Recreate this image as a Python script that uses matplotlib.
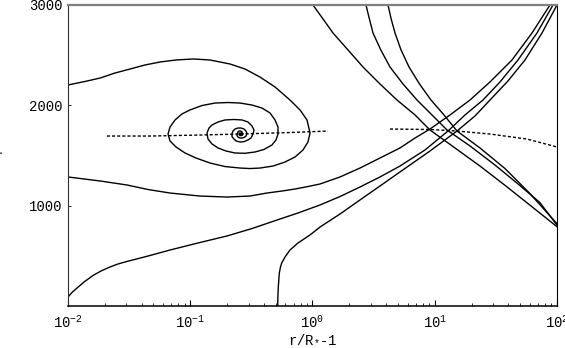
import numpy as np
import matplotlib
matplotlib.use('Agg')
import matplotlib.pyplot as plt
from matplotlib.ticker import NullFormatter, LogLocator

plt.rcParams['font.family'] = ['Liberation Mono', 'DejaVu Sans Mono']
plt.rcParams['mathtext.fontset'] = 'dejavusans'

# spiral solution winding into the focus
spiral_x = [0.0100, 0.0138, 0.0183, 0.0242, 0.0322, 0.0426, 0.0566, 0.0765, 0.1053, 0.1451,
            0.2114, 0.2804, 0.3720, 0.4935, 0.6546, 0.7904, 0.9016, 0.9540, 0.9187, 0.8363,
            0.7193, 0.5958, 0.4752, 0.3720, 0.3081, 0.2552, 0.1924, 0.1451, 0.1114, 0.0906,
            0.0765, 0.0683, 0.0658, 0.0683, 0.0751, 0.0856, 0.0995, 0.1248, 0.1594, 0.2036,
            0.2552, 0.3199, 0.3862, 0.4492, 0.4935, 0.5222, 0.5222, 0.5029, 0.4664, 0.4011,
            0.3385, 0.2804, 0.2323, 0.1961, 0.1687, 0.1507, 0.1397, 0.1371, 0.1424, 0.1507,
            0.1687, 0.1924, 0.2280, 0.2650, 0.2967, 0.3199, 0.3322, 0.3260, 0.3140, 0.2967,
            0.2752, 0.2552, 0.2367, 0.2280, 0.2195, 0.2195, 0.2237, 0.2323, 0.2458, 0.2601,
            0.2752, 0.2857, 0.2912, 0.2857, 0.2752, 0.2650, 0.2552, 0.2458, 0.2412, 0.2412,
            0.2458, 0.2505, 0.2601, 0.2650, 0.2700, 0.2650, 0.2552, 0.2505, 0.2528, 0.2601,
            0.2625, 0.2576, 0.2552]
spiral_v = [2203, 2238, 2272, 2322, 2362, 2402, 2432, 2452, 2462, 2452,
            2412, 2362, 2282, 2183, 2053, 1954, 1854, 1724, 1635, 1555,
            1485, 1435, 1395, 1375, 1370, 1375, 1390, 1425, 1475, 1525,
            1585, 1645, 1714, 1784, 1854, 1914, 1954, 1998, 2023, 2028,
            2023, 2003, 1973, 1924, 1854, 1784, 1714, 1655, 1605, 1560,
            1535, 1522, 1525, 1545, 1575, 1615, 1664, 1724, 1774, 1804,
            1834, 1854, 1859, 1854, 1834, 1794, 1754, 1714, 1674, 1655,
            1638, 1635, 1645, 1664, 1689, 1714, 1744, 1764, 1774, 1774,
            1764, 1744, 1719, 1694, 1679, 1674, 1674, 1684, 1699, 1714,
            1734, 1744, 1744, 1734, 1714, 1699, 1699, 1709, 1724, 1724,
            1714, 1709, 1714]

# rising solutions
rise1_x = [0.0100, 0.01352, 0.0183, 0.0304, 0.0451, 0.0683, 0.120, 0.1998, 0.308, 0.424,
           0.563, 0.719, 0.919, 1.152, 1.679, 2.446, 3.565, 5.196, 6.893, 9.145,
           13.33, 19.43, 28.31, 42.85, 62.45, 87.6]
rise1_v = [1286, 1266, 1246, 1206, 1161, 1126, 1096, 1086, 1096, 1126,
           1146, 1166, 1191, 1216, 1286, 1375, 1475, 1575, 1674, 1764,
           1904, 2053, 2233, 2452, 2721, 3000]

rise2_x = [0.0100, 0.01078, 0.01185, 0.01352, 0.01602, 0.01862, 0.02206, 0.02565, 0.03038, 0.04511,
           0.06829, 0.1157, 0.1998, 0.3199, 0.5124, 0.7611, 1.152, 1.679, 2.446, 3.565,
           5.196, 8.323, 12.84, 17.68, 24.81, 34.18, 47.97, 68.61, 92.74]
rise2_v = [90, 135, 179, 239, 304, 349, 389, 419, 444, 498,
           558, 628, 698, 772, 857, 927, 1007, 1091, 1186, 1286,
           1395, 1555, 1744, 1904, 2053, 2233, 2452, 2721, 3000]

rise3_x = [0.5193, 0.5212, 0.5252, 0.5351, 0.5474, 0.5599, 0.5958, 0.6546, 0.7611, 0.9540,
           1.152, 1.679, 2.446, 3.565, 5.196, 9.145, 15.21, 21.34, 28.31, 39.73,
           54.73, 75.4, 100]
rise3_v = [0, 100, 189, 329, 389, 429, 488, 558, 628, 708,
           787, 917, 1057, 1196, 1336, 1545, 1744, 1894, 2053, 2243,
           2452, 2721, 3000]

# falling solutions
fall1_x = [1.009, 1.219, 1.471, 1.951, 2.589, 3.565, 4.912, 6.90, 9.145, 14.64,
           23.45, 37.55, 60.13, 100]
fall1_v = [3000, 2861, 2721, 2552, 2382, 2213, 2053, 1904, 1754, 1575,
           1395, 1203, 1005, 790]

fall2_x = [2.739, 2.92, 3.126, 3.62, 4.305, 5.50, 7.157, 9.50, 12.6, 19.43,
           31.11, 49.81, 72.6, 100]
fall2_v = [3000, 2861, 2721, 2552, 2382, 2213, 2053, 1904, 1754, 1595,
           1405, 1200, 1030, 805]

fall3_x = [4.146, 4.40, 4.73, 5.30, 6.158, 7.50, 9.318, 11.9, 15.21, 23.45,
           37.55, 60.13, 100]
fall3_v = [3000, 2861, 2721, 2552, 2382, 2213, 2053, 1904, 1744, 1575,
           1370, 1120, 820]

# dashed loci
dash1_x = [0.0208, 0.0469, 0.120, 0.2553, 0.655, 1.339]
dash1_v = [1694, 1694, 1704, 1714, 1729, 1744]
dash2_x = [4.305, 9.145, 15.21, 28.31, 56.84, 100]
dash2_v = [1764, 1759, 1744, 1714, 1664, 1585]

fig = plt.figure(figsize=(5.65, 3.48), dpi=100)
ax = fig.add_axes([68 / 565, 42 / 348, 489 / 565, 301 / 348])

kw = dict(color='black', lw=1.0, solid_joinstyle='round')
for xs, vs in [(spiral_x, spiral_v), (rise1_x, rise1_v), (rise2_x, rise2_v), (rise3_x, rise3_v),
               (fall1_x, fall1_v), (fall2_x, fall2_v), (fall3_x, fall3_v)]:
    ax.plot(xs, vs, **kw)
ax.plot(dash1_x, dash1_v, color='black', lw=1.0, ls=(0, (2.2, 1.5)))
ax.plot(dash2_x, dash2_v, color='black', lw=1.0, ls=(0, (2.2, 1.5)))

ax.set_xscale('log')
ax.set_xlim(1e-2, 1e2)
ax.set_ylim(0, 3000)
ax.set_yticks([1000, 2000, 3000])
ax.xaxis.set_minor_locator(LogLocator(base=10, subs=np.arange(2, 10)))
ax.xaxis.set_minor_formatter(NullFormatter())

ax.tick_params(axis='x', which='major', direction='in', length=4, width=0.8, labelsize=10, pad=6,
               top=False)
ax.tick_params(axis='x', which='minor', direction='in', length=2.5, width=0.6, top=False)
ax.tick_params(axis='y', which='major', direction='in', length=2.5, width=0.6, labelsize=10, pad=4,
               right=False)

ax.spines['top'].set_color('#7f7f7f')
ax.spines['top'].set_linewidth(1.6)
ax.spines['left'].set_color('#333333')
ax.spines['left'].set_linewidth(0.8)
ax.spines['right'].set_linewidth(0.8)
ax.spines['bottom'].set_linewidth(1.1)

ax.set_xlabel(r'r/R$_{\mathdefault{*}}$-1', fontsize=10, labelpad=1)
ax.set_ylabel(r'$v_\phi$', fontsize=12)
ax.yaxis.set_label_coords(-0.127, 0.5)

fig.savefig('out.png', dpi=100)
